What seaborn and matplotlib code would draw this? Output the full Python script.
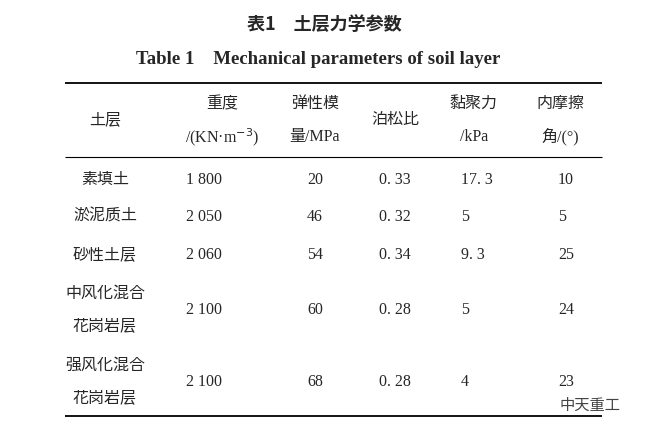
"""table 1: soil layer mechanical parameters, drawn as a figure"""

import matplotlib.pyplot as plt
import seaborn as sns

# --------------------------- data ------------------------------
layers = [['素填土'], ['淤泥质土'], ['砂性土层'], ['中风化混合', '花岗岩层'], ['强风化混合', '花岗岩层']]
unit_weight = ['1 800', '2 050', '2 060', '2 100', '2 100']
elastic_mod = ['20', '46', '54', '60', '68']
poisson = ['0. 33', '0. 32', '0. 34', '0. 28', '0. 28']
cohesion = ['17. 3', '5', '9. 3', '5', '4']
friction = ['10', '5', '25', '24', '23']
headers = [['土层'], ['重度', '/(KN·m$^{-3}$)'], ['弹性模', '量/MPa'], ['泊松比'],
           ['黏聚力', '/kPa'], ['内摩擦', '角/(°)']]

CJK = 'Noto Sans CJK JP'
FONT = ['Liberation Serif', CJK]
sns.set_theme(style='white')
plt.rcParams['font.family'] = FONT

fig = plt.figure(figsize=(6.48, 4.33), dpi=100)
ax = fig.add_axes([0, 0, 1, 1])
ax.set_xlim(0, 648)
ax.set_ylim(433, 0)
ax.axis('off')

# titles
ax.text(324, 24, '表1　土层力学参数', ha='center', va='center', fontsize=13,
        fontweight='bold', family=CJK)
ax.text(318, 60, 'Table 1    Mechanical parameters of soil layer', ha='center',
        va='center', fontsize=13.5, fontweight='bold')

# rules
ax.hlines(83, 65, 602, color='black', lw=1.3)
ax.hlines(157, 65, 602, color='black', lw=0.8)
ax.hlines(416, 65, 602, color='black', lw=1.3)

col_x = [105, 222, 315, 395, 474, 560]
fs = 11.5

# header
for x, lines in zip(col_x, headers):
    if len(lines) == 1:
        ax.text(x, 120, lines[0], ha='center', va='center', fontsize=fs)
    else:
        ax.text(x, 104, lines[0], ha='center', va='center', fontsize=fs)
        ax.text(x, 137, lines[1], ha='center', va='center', fontsize=fs)

# body
row_y = [180, 217, 255, 310, 382]
for i, y in enumerate(row_y):
    if len(layers[i]) == 1:
        ax.text(col_x[0], y, layers[i][0], ha='center', va='center', fontsize=fs)
    else:
        ax.text(col_x[0], y - 16, layers[i][0], ha='center', va='center', fontsize=fs)
        ax.text(col_x[0], y + 16, layers[i][1], ha='center', va='center', fontsize=fs)
    ax.text(186, y, unit_weight[i], ha='left', va='center', fontsize=fs)
    ax.text(col_x[2], y, elastic_mod[i], ha='center', va='center', fontsize=fs)
    ax.text(col_x[3], y, poisson[i], ha='center', va='center', fontsize=fs)
    ax.text(461, y, cohesion[i], ha='left', va='center', fontsize=fs)
    ax.text(col_x[5] + 6, y, friction[i], ha='right' if len(friction[i]) == 1 else 'center',
            va='center', fontsize=fs)

# watermark
ax.text(590, 405, '中天重工', ha='center', va='center', fontsize=11,
        family=CJK, color='#444444')

fig.savefig('out.png', dpi=100)
